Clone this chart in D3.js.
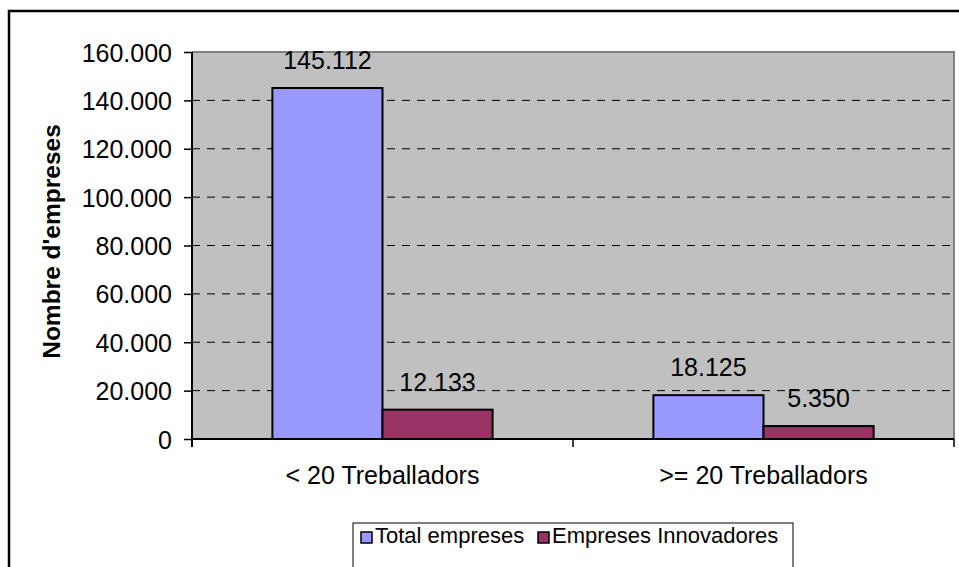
<!DOCTYPE html>
<html>
<head>
<meta charset="utf-8">
<script src="https://cdn.jsdelivr.net/npm/d3@7"></script>
<style>
  body { margin: 0; background: #fff; }
  text { font-family: "Liberation Sans", Arial, sans-serif; fill: #000; }
</style>
</head>
<body>
<div id="chart-area"></div>
<script>
/* data */
const categories = ['< 20 Treballadors', '>= 20 Treballadors']
const seriesNames = ['Total empreses', 'Empreses Innovadores']
const totalEmpreses = [145112, 18125]
const empresesInnovadores = [12133, 5350]
const yTicks = [0, 20000, 40000, 60000, 80000, 100000, 120000, 140000, 160000]
const seriesColors = ['#9999FF', '#993366']

const rows = categories.map((c, i) => ({
	category: c,
	values: [totalEmpreses[i], empresesInnovadores[i]]
}))

/* Canvas */
const CANVAS_WIDTH = 959
const CANVAS_HEIGHT = 567
const margin = { top: 52, left: 192, right: 5, bottom: 128 }
const width = CANVAS_WIDTH - margin.left - margin.right
const height = CANVAS_HEIGHT - margin.top - margin.bottom

const fmt = d => d3.format(',')(d).replace(/,/g, '.')

const $svg = d3.select('#chart-area')
	.append('svg')
	.attr('width', CANVAS_WIDTH)
	.attr('height', CANVAS_HEIGHT)

// outer chart frame (right/bottom run off the picture)
$svg.append('rect')
	.attr('x', 9).attr('y', 11)
	.attr('width', 970).attr('height', 600)
	.attr('fill', 'none')
	.attr('stroke', '#000')
	.attr('stroke-width', 2.5)

const $scene = $svg.append('g')
	.attr('transform', `translate(${margin.left}, ${margin.top})`)

/* Scales */
const xScale = d3.scaleBand()
	.domain(categories)
	.range([0, width])

const bw = xScale.bandwidth()
const xInner = d3.scaleBand()
	.domain(seriesNames)
	.range([bw * 0.211, bw * 0.789])

const yScale = d3.scaleLinear()
	.domain([0, 160000])
	.range([height, 0])

/* plot area */
$scene.append('rect')
	.attr('width', width)
	.attr('height', height)
	.attr('fill', '#C0C0C0')

$scene.append('path')
	.attr('d', `M0,0H${width}V${height}`)
	.attr('fill', 'none')
	.attr('stroke', '#808080')
	.attr('stroke-width', 2)

// gridlines
$scene.append('g')
	.selectAll('line')
	.data(yTicks.filter(d => d > 0 && d < 160000))
	.enter()
	.append('line')
	.attr('x1', 0)
	.attr('x2', width)
	.attr('y1', d => yScale(d))
	.attr('y2', d => yScale(d))
	.attr('stroke', '#000')
	.attr('stroke-width', 1)
	.attr('stroke-dasharray', '8,7')

/* Bars */
const $groups = $scene.selectAll('.group')
	.data(rows)
	.enter()
	.append('g')
	.attr('class', 'group')
	.attr('transform', d => `translate(${xScale(d.category)}, 0)`)

$groups.selectAll('rect')
	.data(d => d.values.map((v, i) => ({ name: seriesNames[i], value: v, i })))
	.enter()
	.append('rect')
	.attr('x', d => xInner(d.name))
	.attr('y', d => yScale(d.value))
	.attr('width', xInner.bandwidth())
	.attr('height', d => height - yScale(d.value))
	.attr('fill', d => seriesColors[d.i])
	.attr('stroke', '#000')
	.attr('stroke-width', 2)

$groups.selectAll('.value-label')
	.data(d => d.values.map((v, i) => ({ name: seriesNames[i], value: v })))
	.enter()
	.append('text')
	.attr('class', 'value-label')
	.attr('x', d => xInner(d.name) + xInner.bandwidth() / 2)
	.attr('y', d => yScale(d.value) - 19)
	.attr('text-anchor', 'middle')
	.attr('font-size', 25)
	.text(d => fmt(d.value))

/* Axes */
const yAxisCall = d3.axisLeft(yScale)
	.tickValues(yTicks)
	.tickSize(8)
	.tickPadding(12)
	.tickFormat(fmt)

const $yAxis = $scene.append('g').call(yAxisCall)
$yAxis.select('.domain').remove()
$yAxis.selectAll('line').attr('stroke', '#000').attr('stroke-width', 1.5)
$yAxis.selectAll('text')
	.attr('font-size', 25)
	.attr('font-family', '"Liberation Sans", Arial, sans-serif')
	.attr('dy', '0.36em')

$scene.append('line')
	.attr('x1', 0).attr('x2', 0)
	.attr('y1', 0).attr('y2', height + 8)
	.attr('stroke', '#000')
	.attr('stroke-width', 2)

const $xAxis = $scene.append('g')
	.attr('transform', `translate(0, ${height})`)

$xAxis.append('line')
	.attr('x1', 0).attr('x2', width)
	.attr('stroke', '#000')
	.attr('stroke-width', 2)

$xAxis.selectAll('.tick-mark')
	.data(categories.map(c => xScale(c)).concat([width]))
	.enter()
	.append('line')
	.attr('class', 'tick-mark')
	.attr('x1', d => d).attr('x2', d => d)
	.attr('y1', 0).attr('y2', 8)
	.attr('stroke', '#000')
	.attr('stroke-width', 1.5)

$xAxis.selectAll('.cat-label')
	.data(categories)
	.enter()
	.append('text')
	.attr('class', 'cat-label')
	.attr('x', d => xScale(d) + bw / 2)
	.attr('y', 45)
	.attr('text-anchor', 'middle')
	.attr('font-size', 25)
	.text(d => d)

/* Axis title */
$svg.append('text')
	.attr('transform', `translate(60, ${margin.top + height / 2 - 4}) rotate(-90)`)
	.attr('text-anchor', 'middle')
	.attr('font-size', 24.5)
	.attr('font-weight', 'bold')
	.text("Nombre d'empreses")

/* Legend */
const $legend = $svg.append('g')
	.attr('transform', 'translate(353, 523)')

$legend.append('rect')
	.attr('width', 440)
	.attr('height', 80)
	.attr('fill', '#fff')
	.attr('stroke', '#000')
	.attr('stroke-width', 1)

const legendX = [8, 185]
const $items = $legend.selectAll('.item')
	.data(seriesNames)
	.enter()
	.append('g')
	.attr('class', 'item')
	.attr('transform', (d, i) => `translate(${legendX[i]}, 0)`)

$items.append('rect')
	.attr('y', 9)
	.attr('width', 11)
	.attr('height', 11)
	.attr('fill', (d, i) => seriesColors[i])
	.attr('stroke', '#000')
	.attr('stroke-width', 1.5)

$items.append('text')
	.attr('x', 14)
	.attr('y', 20)
	.attr('font-size', 22)
	.text(d => d)
</script>
</body>
</html>
